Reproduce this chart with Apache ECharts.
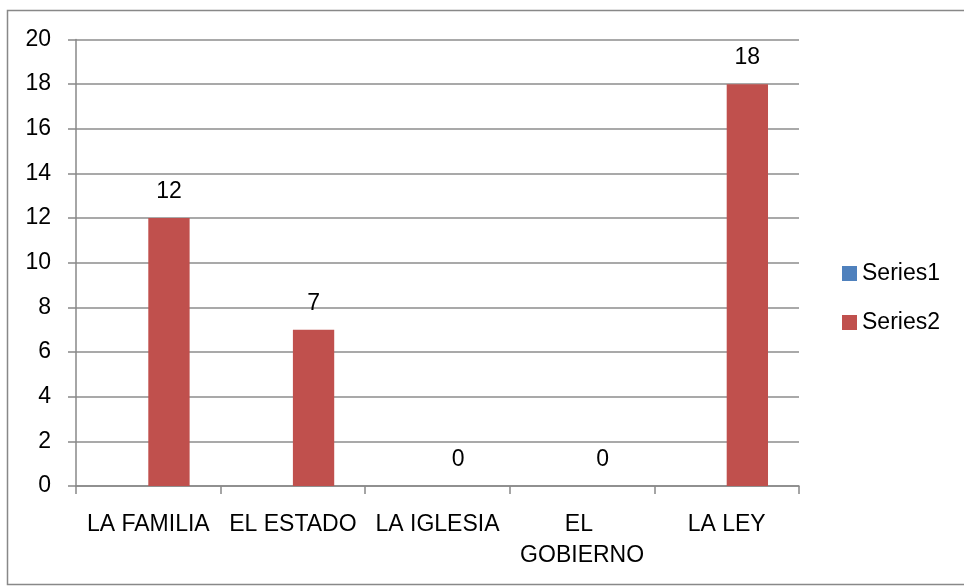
<!DOCTYPE html>
<html>
<head>
<meta charset="utf-8">
<script src="https://cdn.jsdelivr.net/npm/echarts@6/dist/echarts.min.js"></script>
<style>
html,body{margin:0;padding:0;background:#fff;}
#c{width:964px;height:586px;}
</style>
</head>
<body>
<div id="c"></div>
<script>
var categories = ['LA FAMILIA', 'EL ESTADO', 'LA IGLESIA', 'EL GOBIERNO', 'LA LEY'];
var series1 = [null, null, null, null, null];
var series2 = [12, 7, 0, 0, 18];
var yTicks = [0, 2, 4, 6, 8, 10, 12, 14, 16, 18, 20];

var FONT = 'Liberation Sans';
var chart = echarts.init(document.getElementById('c'), null, {renderer: 'canvas'});
chart.setOption({
  animation: false,
  backgroundColor: '#fff',
  textStyle: {fontFamily: FONT},
  graphic: [{
    type: 'rect',
    shape: {x: 7.5, y: 10.5, width: 990, height: 574},
    style: {fill: 'none', stroke: '#888888', lineWidth: 1.5},
    silent: true
  }],
  grid: {left: 76, right: 165, top: 39.5, bottom: 100, containLabel: false},
  legend: {
    orient: 'vertical',
    left: 837,
    top: 257,
    itemWidth: 15,
    itemHeight: 15,
    itemGap: 26,
    icon: 'rect',
    textStyle: {fontFamily: FONT, fontSize: 23, color: '#000'},
    data: ['Series1', 'Series2']
  },
  xAxis: {
    type: 'category',
    data: categories,
    axisLine: {lineStyle: {color: '#888888', width: 1.5}},
    axisTick: {show: true, length: 8, alignWithLabel: false, lineStyle: {color: '#888888', width: 1.5}},
    axisLabel: {
      interval: 0,
      margin: 23,
      color: '#000',
      fontFamily: FONT,
      fontSize: 23,
      width: 140,
      overflow: 'break',
      lineHeight: 31
    }
  },
  yAxis: {
    type: 'value',
    min: 0,
    max: 20,
    interval: 2,
    axisLine: {show: true, lineStyle: {color: '#888888', width: 1.5}},
    axisTick: {show: true, length: 8, lineStyle: {color: '#888888', width: 1.5}},
    splitLine: {show: true, lineStyle: {color: '#8c8c8c', width: 1.5}},
    axisLabel: {
      margin: 25,
      color: '#000',
      fontFamily: FONT,
      fontSize: 23,
      formatter: function (v) { return yTicks.indexOf(v) >= 0 ? String(v) : ''; }
    }
  },
  series: [
    {
      name: 'Series1',
      type: 'bar',
      data: series1,
      itemStyle: {color: '#4f81bd'},
      barGap: '0%',
      barCategoryGap: '42.86%'
    },
    {
      name: 'Series2',
      type: 'bar',
      data: series2,
      itemStyle: {color: '#c0504d'},
      barGap: '0%',
      barCategoryGap: '42.86%',
      label: {
        show: true,
        position: 'top',
        distance: 15,
        color: '#000',
        fontFamily: FONT,
        fontSize: 23
      }
    }
  ]
});
</script>
</body>
</html>
